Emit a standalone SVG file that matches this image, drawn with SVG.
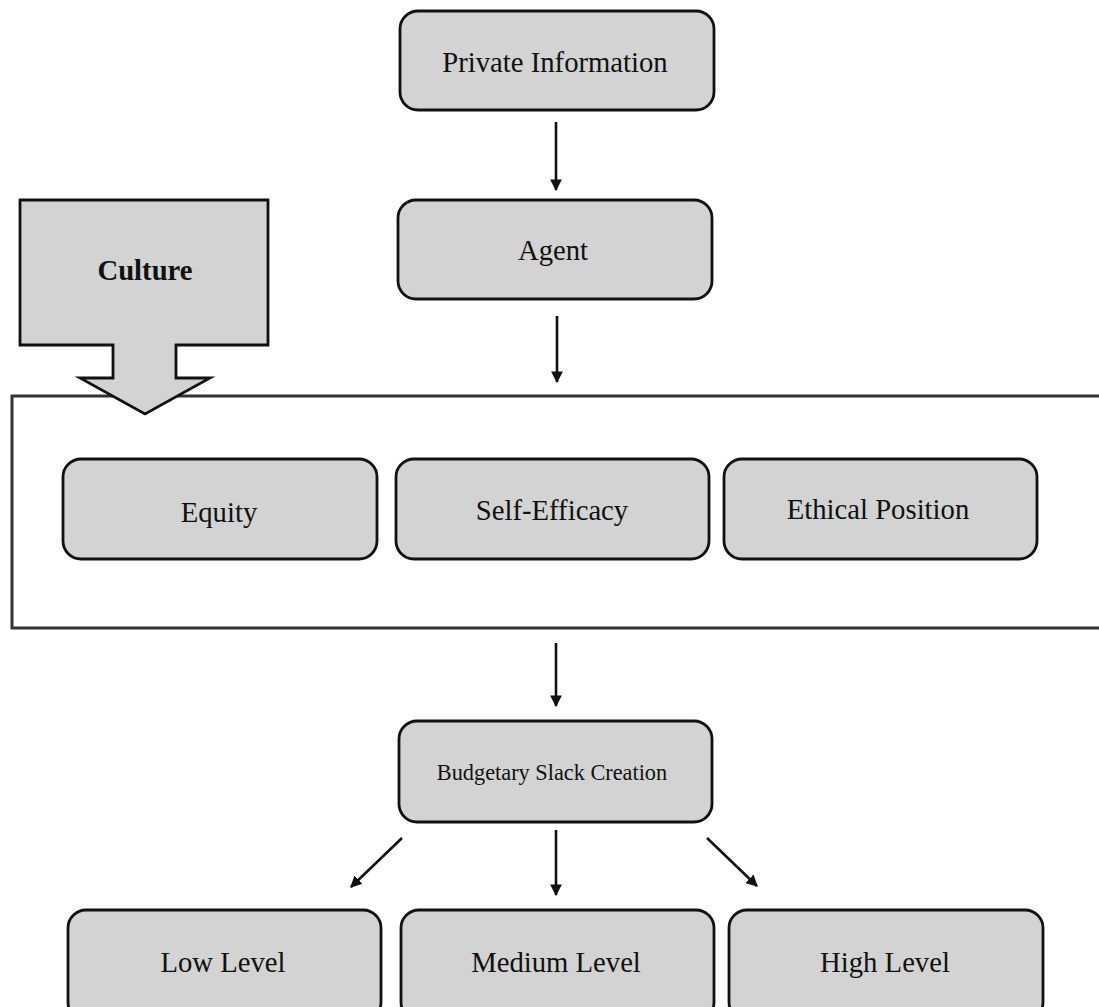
<svg xmlns="http://www.w3.org/2000/svg" width="1099" height="1007" viewBox="0 0 1099 1007">
<style>
.n{fill:#d3d3d3;stroke:#111;stroke-width:2.8}
.t{font-family:"Liberation Serif","Times New Roman",serif;font-size:28.7px;fill:#111;text-anchor:middle}
.s{font-size:22.3px}
.c{stroke:#111;stroke-width:2.6;fill:none}
</style>
<defs>
<marker id="ah" viewBox="0 0 10 10" refX="9" refY="5" markerWidth="4.5" markerHeight="4.5" markerUnits="strokeWidth" orient="auto">
<path d="M0,0 L10,5 L0,10 Z" fill="#111"/>
</marker>
</defs>
<rect x="0" y="0" width="1099" height="1007" fill="#fff"/>
<g id="container">
<rect x="12" y="396" width="1100" height="232" fill="none" stroke="#333" stroke-width="3"/>
</g>
<g id="culture">
<path d="M20,200 L268,200 L268,345 L176,345 L176,378 L210,378 L145,414 L80,378 L113,378 L113,345 L20,345 Z" class="n"/>
<text x="145" y="280" class="t" font-weight="bold">Culture</text>
</g>
<g id="private-information">
<rect x="400" y="11" width="314" height="99" rx="18" class="n"/>
<text x="555" y="72" class="t">Private Information</text>
</g>
<g id="agent">
<rect x="398" y="200" width="314" height="99" rx="18" class="n"/>
<text x="553" y="260" class="t">Agent</text>
</g>
<g id="equity">
<rect x="63" y="459" width="314" height="100" rx="18" class="n"/>
<text x="219" y="522" class="t">Equity</text>
</g>
<g id="self-efficacy">
<rect x="396" y="459" width="313" height="100" rx="18" class="n"/>
<text x="552" y="520" class="t">Self-Efficacy</text>
</g>
<g id="ethical-position">
<rect x="724" y="459" width="313" height="100" rx="18" class="n"/>
<text x="878" y="519" class="t">Ethical Position</text>
</g>
<g id="budgetary-slack-creation">
<rect x="399" y="721" width="313" height="101" rx="18" class="n"/>
<text x="552" y="780" class="t s">Budgetary Slack Creation</text>
</g>
<g id="low-level">
<rect x="68" y="910" width="313" height="110" rx="18" class="n"/>
<text x="223" y="972" class="t">Low Level</text>
</g>
<g id="medium-level">
<rect x="401" y="910" width="313" height="110" rx="18" class="n"/>
<text x="556" y="972" class="t">Medium Level</text>
</g>
<g id="high-level">
<rect x="729" y="910" width="314" height="110" rx="18" class="n"/>
<text x="885" y="972" class="t">High Level</text>
</g>
<g id="connectors">
<line x1="556" y1="122" x2="556" y2="190" class="c" marker-end="url(#ah)"/>
<line x1="557" y1="316" x2="557" y2="382" class="c" marker-end="url(#ah)"/>
<line x1="556" y1="643" x2="556" y2="706" class="c" marker-end="url(#ah)"/>
<line x1="402" y1="838" x2="351" y2="887" class="c" marker-end="url(#ah)"/>
<line x1="556" y1="830" x2="556" y2="895" class="c" marker-end="url(#ah)"/>
<line x1="707" y1="838" x2="757" y2="886" class="c" marker-end="url(#ah)"/>
</g>
</svg>
